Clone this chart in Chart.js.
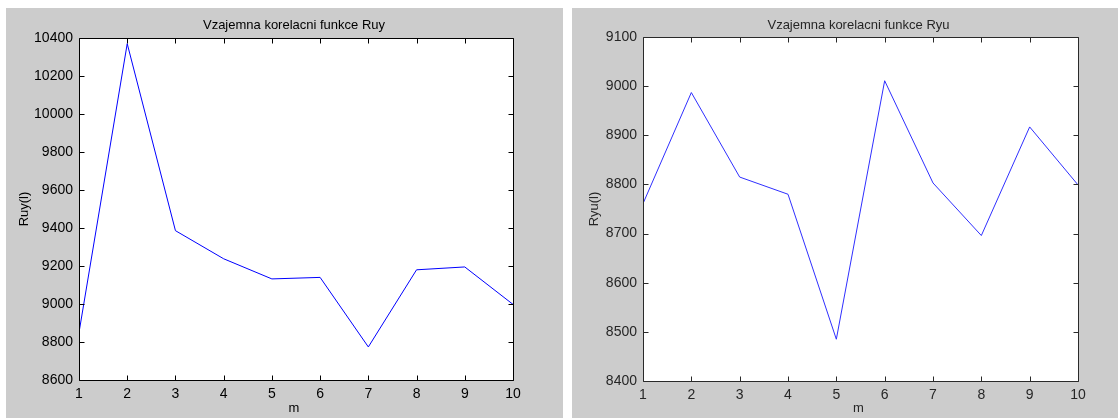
<!DOCTYPE html>
<html>
<head>
<meta charset="utf-8">
<script src="https://cdn.jsdelivr.net/npm/chart.js@4"></script>
<style>
  html, body { margin: 0; padding: 0; background: #ffffff; width: 1118px; height: 419px; overflow: hidden; }
  .panel { position: absolute; top: 8px; height: 410px; background: #cccccc; }
  #p1 { left: 6px; width: 557px; }
  #p2 { left: 572px; width: 546px; }
  canvas { display: block; }
</style>
</head>
<body>
<div class="panel" id="p1"><canvas id="c1" width="557" height="410"></canvas></div>
<div class="panel" id="p2"><canvas id="c2" width="546" height="410"></canvas></div>
<script>
// Lag index m
const lags = [1, 2, 3, 4, 5, 6, 7, 8, 9, 10];
// Cross-correlation Ruy(l)
const ruy = [8850, 10370, 9386, 9238, 9132, 9140, 8774, 9180, 9195, 8998];
// Cross-correlation Ryu(l)
const ryu = [8761, 8987, 8815, 8780, 8485, 9011, 8803, 8696, 8917, 8799];

const xTicks = [1, 2, 3, 4, 5, 6, 7, 8, 9, 10];
const ruyTicks = [8600, 8800, 9000, 9200, 9400, 9600, 9800, 10000, 10200, 10400];
const ryuTicks = [8400, 8500, 8600, 8700, 8800, 8900, 9000, 9100];

const FONT = '"Liberation Sans", Arial, sans-serif';

// Axes box, inward tick marks on all four sides, title and axis labels
const framePlugin = {
  id: 'frame',
  beforeDatasetsDraw(chart) {
    const { ctx, chartArea: a } = chart;
    ctx.save();
    ctx.fillStyle = '#ffffff';
    ctx.fillRect(a.left, a.top, a.right - a.left + 1, a.bottom - a.top + 1);
    ctx.restore();
  },
  afterDraw(chart, args, o) {
    const { ctx, chartArea: a } = chart;
    const xs = chart.scales.x, ys = chart.scales.y;
    const L = a.left + 0.5, R = a.right + 0.5, T = a.top + 0.5, B = a.bottom + 0.5;
    const tl = 5;
    ctx.save();
    ctx.strokeStyle = o.axisColor;
    ctx.lineWidth = 1;
    ctx.beginPath();
    ctx.rect(L, T, R - L, B - T);
    xs.ticks.forEach(t => {
      const px = Math.round(xs.getPixelForValue(t.value)) + 0.5;
      ctx.moveTo(px, B); ctx.lineTo(px, B - tl);
      ctx.moveTo(px, T); ctx.lineTo(px, T + tl);
    });
    ys.ticks.forEach(t => {
      const py = Math.round(ys.getPixelForValue(t.value)) + 0.5;
      ctx.moveTo(L, py); ctx.lineTo(L + tl, py);
      ctx.moveTo(R, py); ctx.lineTo(R - tl, py);
    });
    ctx.stroke();

    ctx.fillStyle = o.textColor;
    ctx.font = '13px ' + FONT;
    ctx.textAlign = 'center';
    ctx.textBaseline = 'alphabetic';
    const cx = (a.left + a.right) / 2 - 2;
    ctx.fillText(o.title, cx, o.titleY);
    ctx.textBaseline = 'middle';
    ctx.fillText(o.xLabel, cx, o.xLabelY);
    ctx.translate(o.yLabelX, (a.top + a.bottom) / 2);
    ctx.rotate(-Math.PI / 2);
    ctx.fillText(o.yLabel, 0, 0);
    ctx.restore();
  }
};

function makeChart(id, values, yTicks, s) {
  return new Chart(document.getElementById(id), {
    type: 'line',
    data: {
      datasets: [{
        data: lags.map((m, i) => ({ x: m, y: values[i] })),
        borderColor: s.lineColor,
        borderWidth: 1,
        pointRadius: 0,
        tension: 0,
        fill: false
      }]
    },
    options: {
      responsive: false,
      animation: false,
      devicePixelRatio: 1,
      layout: { padding: { top: s.padTop, right: s.padRight, left: 0, bottom: 0 } },
      plugins: {
        legend: { display: false },
        tooltip: { enabled: false },
        frame: {
          title: s.title, xLabel: 'm', yLabel: s.yLabel,
          titleY: s.titleY, xLabelY: 400, yLabelX: s.yLabelX,
          axisColor: s.axisColor, textColor: s.textColor
        }
      },
      scales: {
        x: {
          type: 'linear',
          min: xTicks[0],
          max: xTicks[xTicks.length - 1],
          afterBuildTicks: sc => { sc.ticks = xTicks.map(v => ({ value: v })); },
          afterFit: sc => { sc.height = s.xHeight; },
          grid: { display: false, drawTicks: false },
          border: { display: false },
          ticks: {
            color: s.textColor, font: { family: FONT, size: 14 }, padding: 6,
            maxRotation: 0, autoSkip: false, callback: v => String(v)
          }
        },
        y: {
          type: 'linear',
          min: yTicks[0],
          max: yTicks[yTicks.length - 1],
          afterBuildTicks: sc => { sc.ticks = yTicks.map(v => ({ value: v })); },
          afterFit: sc => { sc.width = s.yWidth; },
          grid: { display: false, drawTicks: false },
          border: { display: false },
          ticks: {
            color: s.textColor, font: { family: FONT, size: 14 }, padding: 6,
            autoSkip: false, callback: v => String(v)
          }
        }
      }
    },
    plugins: [framePlugin]
  });
}

makeChart('c1', ruy, ruyTicks, {
  title: 'Vzajemna korelacni funkce Ruy', yLabel: 'Ruy(l)',
  lineColor: '#0000ff', axisColor: '#000000', textColor: '#000000',
  padTop: 30, padRight: 50, yWidth: 73, xHeight: 38, titleY: 21, yLabelX: 18
});

makeChart('c2', ryu, ryuTicks, {
  title: 'Vzajemna korelacni funkce Ryu', yLabel: 'Ryu(l)',
  lineColor: '#2f2fff', axisColor: '#2a2a2a', textColor: '#262626',
  padTop: 29, padRight: 40, yWidth: 71, xHeight: 37, titleY: 21, yLabelX: 22
});
</script>
</body>
</html>
